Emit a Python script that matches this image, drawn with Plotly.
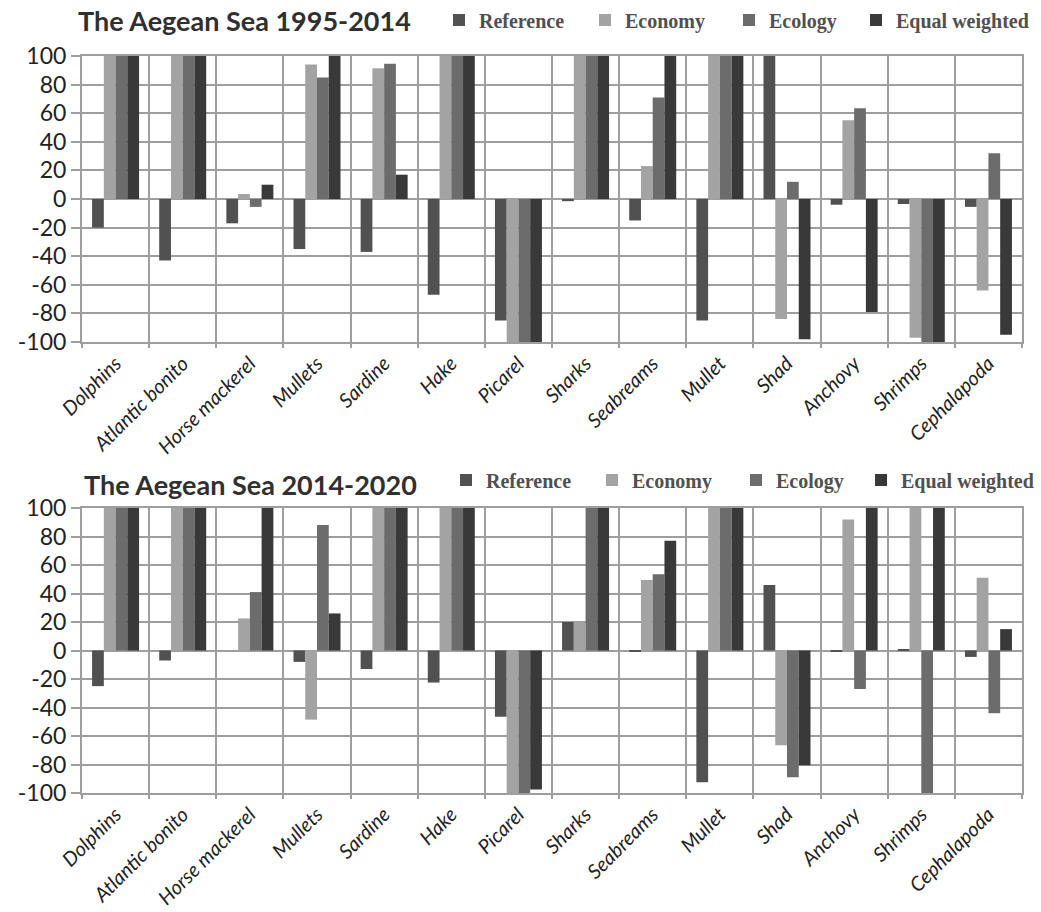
import plotly.graph_objects as go

# Species along the x axis (same order in both periods)
species = ["Dolphins", "Atlantic bonito", "Horse mackerel", "Mullets", "Sardine",
           "Hake", "Picarel", "Sharks", "Seabreams", "Mullet", "Shad", "Anchovy",
           "Shrimps", "Cephalapoda"]

series_names = ["Reference", "Economy", "Ecology", "Equal weighted"]
series_colors = ["#515151", "#a3a3a3", "#6c6c6c", "#393939"]

# The Aegean Sea 1995-2014
ref_1995 = [-20, -43, -17, -35, -37, -67, -85, -1.5, -15, -85, 100, -4, -3.5, -5.5]
eco_1995 = [100, 100, 3.5, 94, 91.5, 100, -100, 100, 23, 100, -84, 55, -97, -64]
ecl_1995 = [100, 100, -5.5, 85, 94.5, 100, -100, 100, 71, 100, 12, 63.5, -100, 32]
eqw_1995 = [100, 100, 10, 100, 17, 100, -100, 100, 100, 100, -98, -79, -100, -95]

# The Aegean Sea 2014-2020
ref_2014 = [-25, -7, 0, -8, -13, -22.5, -46.5, 20, -1, -92.5, 46, -1, 1, -4.5]
eco_2014 = [100, 100, 22.5, -48.5, 100, 100, -100, 20, 49.5, 100, -66.5, 92, 100, 51]
ecl_2014 = [100, 100, 41, 88, 100, 100, -100, 100, 53.5, 100, -89, -27, -100, -44]
eqw_2014 = [100, 100, 100, 26, 100, 100, -97.5, 100, 77, 100, -80.5, 100, 100, 15]

panels = [
    ("The Aegean Sea 1995-2014", [ref_1995, eco_1995, ecl_1995, eqw_1995]),
    ("The Aegean Sea 2014-2020", [ref_2014, eco_2014, ecl_2014, eqw_2014]),
]
y_ticks = [-100, -80, -60, -40, -20, 0, 20, 40, 60, 80, 100]
y_tick_text = [str(v) for v in y_ticks]

W, H = 1041, 912
ML, MR, MT, MB = 82, 19, 56, 119
GRID = "#9e9e9e"

fig = go.Figure()

# legend text starting positions (px) and vertical centre for each panel
legend_text_x = [[481, 627, 771, 898], [488, 634, 778, 903]]
legend_y = [20, 480]
title_pos = [(76, 20), (82, 484)]

for p, (title, data) in enumerate(panels):
    ax = "" if p == 0 else "2"
    for s, (name, color, vals) in enumerate(zip(series_names, series_colors, data)):
        k = p * 4 + s
        lg = "legend" if k == 0 else f"legend{k + 1}"
        fig.add_trace(go.Bar(
            x=species, y=vals, name=f"<b>{name}</b>",
            marker=dict(color=color, line=dict(width=0)),
            xaxis="x" + ax, yaxis="y" + ax, legend=lg, showlegend=True,
        ))
        fig.update_layout({lg: dict(
            xref="container", yref="container",
            x=(legend_text_x[p][s] - 42) / W, y=1 - legend_y[p] / H,
            xanchor="left", yanchor="middle",
            bgcolor="rgba(0,0,0,0)",
            font=dict(family="Liberation Serif", size=20, color="#505050"),
            itemclick=False, itemdoubleclick=False,
        )})
    fig.add_annotation(
        text=f"<b>{title}</b>", xref="paper", yref="paper",
        x=(title_pos[p][0] - ML) / (W - ML - MR),
        y=1 - (title_pos[p][1] - MT) / (H - MT - MB),
        xanchor="left", yanchor="middle", showarrow=False,
        font=dict(family="Lato", size=27, color="#303030"),
    )

axis_common_x = dict(
    type="category", tickson="boundaries", showgrid=True, gridcolor=GRID, gridwidth=2,
    showline=True, linecolor=GRID, linewidth=2, mirror=True,
    ticks="outside", ticklen=4, tickcolor=GRID, tickwidth=2,
    tickangle=-45, tickfont=dict(family="Lato", size=20, color="#222222", style="italic"),
)
axis_common_y = dict(
    range=[-100, 100], tickvals=y_ticks, ticktext=y_tick_text,
    showgrid=True, gridcolor=GRID, gridwidth=2,
    zeroline=True, zerolinecolor=GRID, zerolinewidth=2,
    showline=True, linecolor=GRID, linewidth=2, mirror=True,
    ticks="outside", ticklen=9, tickcolor=GRID, tickwidth=2, ticklabelstandoff=0,
    tickfont=dict(family="Lato", size=23, color="#222222"),
)

top_lo = (H - MB - 342) / (H - MT - MB)
bot_hi = (H - MB - 508) / (H - MT - MB)

fig.update_layout(
    width=W, height=H, showlegend=True,
    margin=dict(l=ML, r=MR, t=MT, b=MB, autoexpand=False),
    paper_bgcolor="white", plot_bgcolor="white",
    barmode="group", bargap=0.3, bargroupgap=0,
    xaxis=dict(domain=[0, 1], anchor="y", **axis_common_x),
    yaxis=dict(domain=[top_lo, 1], anchor="x", **axis_common_y),
    xaxis2=dict(domain=[0, 1], anchor="y2", **axis_common_x),
    yaxis2=dict(domain=[0, bot_hi], anchor="x2", **axis_common_y),
)

fig.write_html("out.html")
